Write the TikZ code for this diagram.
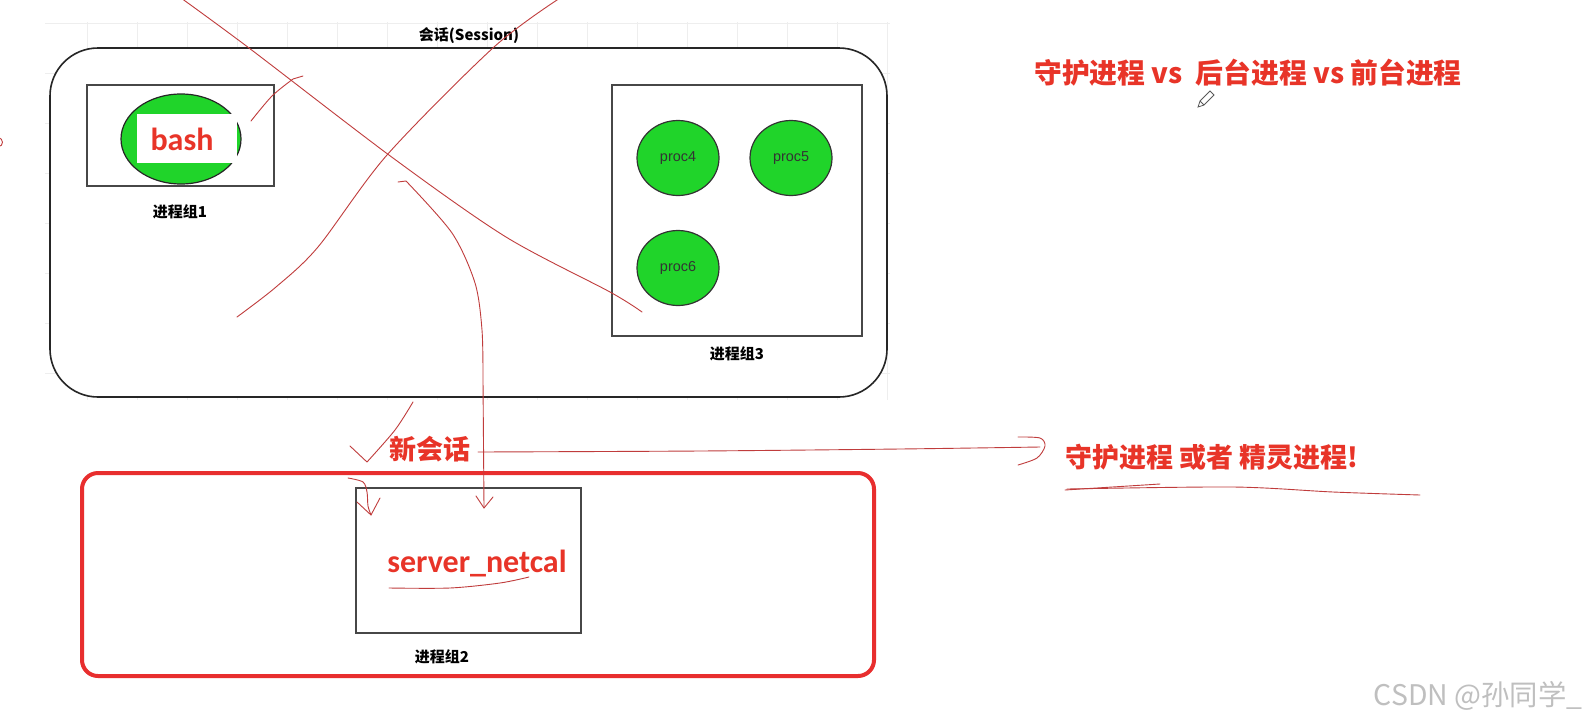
\documentclass[tikz,border=0pt]{standalone}
\usepackage{fontspec}
\setmainfont{Liberation Sans}
\newfontfamily\cjk{Noto Sans CJK SC}
\newfontfamily\calfont{Carlito}
\usetikzlibrary{fit,shapes.geometric}
\definecolor{procgreen}{RGB}{32,212,42}
\definecolor{txtred}{RGB}{232,52,40}
\definecolor{inkred}{RGB}{192,60,60}
\definecolor{boxred}{RGB}{232,46,46}
\definecolor{gridgray}{RGB}{238,238,238}
\tikzset{
  sessbox/.style={draw=black!85, line width=0.8pt, rounded corners=24pt, fill=white, inner sep=0pt},
  grpbox/.style={draw=black!72, line width=0.8pt, inner sep=0pt},
  redbox/.style={draw=boxred, line width=2pt, rounded corners=8pt, inner sep=0pt},
  procnode/.style={ellipse, draw=black!80, line width=0.6pt, fill=procgreen, minimum width=41pt, minimum height=37.5pt, inner sep=0pt, font=\fontsize{7.2}{8}\selectfont, text=black!80},
  grplbl/.style={font=\cjk\bfseries\fontsize{7.5}{9}\selectfont, inner sep=0pt},
  bigred/.style={text=txtred, font=\cjk\bfseries\fontsize{13.5}{16}\selectfont, inner sep=0pt},
  calred/.style={text=txtred, font=\calfont\bfseries\fontsize{16}{18}\selectfont, inner sep=0pt},
  ink/.style={draw=inkred, line width=0.45pt, line cap=round, line join=round},
  gridline/.style={draw=gridgray, line width=0.5pt}
}
\begin{document}
\begin{tikzpicture}[x=0.5pt,y=-0.5pt]
\useasboundingbox (0,0) rectangle (1594,723);
\fill[white] (0,0) rectangle (1594,723);
% faint grid of the drawing canvas
\foreach \x in {87,137,...,887} \draw[gridline] (\x,22) -- (\x,400);
\foreach \y in {23,73,...,373} \draw[gridline] (45,\y) -- (890,\y);

% session
\node[sessbox, fit={(50,48) (887,397)}] (session) {};
\node[grplbl] (sesslbl) at (469,36) {会话(Session)};

% process group 1
\node[grpbox, fit={(87,85) (274,186)}] (g1) {};
\node[ellipse, draw=black!85, line width=0.6pt, fill=procgreen, minimum width=60pt, minimum height=45pt] (bashell) at (181,139) {};
\node[fill=white, inner sep=0pt, fit={(137,114) (237,163)}] (bashbg) {};
\node[calred] (bash) at (182,139) {bash};
\node[grplbl] (g1lbl) at (180,212) {进程组1};

% process group 3
\node[grpbox, fit={(612,85) (862,336)}] (g3) {};
\node[procnode] (p4) at (678,158) {proc4};
\node[procnode] (p5) at (791,158) {proc5};
\node[procnode] (p6) at (678,268) {proc6};
\node[grplbl] (g3lbl) at (737,354) {进程组3};

% new session
\node[redbox, fit={(82,473) (874,676)}] (newsess) {};
\node[grpbox, fit={(356,488) (581,633)}] (g2) {};
\node[calred] (srv) at (477,563) {server\_netcal};
\node[grplbl] (g2lbl) at (442,657) {进程组2};
\node[bigred] (xin) at (430,449) {新会话};

% notes on the right
\node[bigred, font=\cjk\bfseries\fontsize{13.9}{16}\selectfont] (title) at (1248,73) {守护进程 vs\ \ 后台进程 vs 前台进程};
\node[bigred] (daemon) at (1212,457) {守护进程 或者 精灵进程!};
\node[text=black!25, font=\cjk\fontsize{14.2}{16}\selectfont, inner sep=0pt] (wm) at (1478,696) {CSDN @孙同学\_};

% pencil cursor
\draw[black!65, line width=0.4pt] (1198,107) -- (1200,101) -- (1210,91) -- (1214,95) -- (1204,105) -- cycle;
\draw[black!65, line width=0.4pt] (1200,101) -- (1204,105);

% hand-drawn strokes
\coordinate (a0) at (181,-2);
\coordinate (a1) at (642,312);
\draw[ink] plot[smooth] coordinates {(a0) (249,48) (393,158) (506,237) (610,292) (a1)};
\coordinate (b0) at (560,-2);
\coordinate (b1) at (237,317);
\draw[ink] plot[smooth] coordinates {(b0) (494,47) (387,155) (318,247) (276,287) (b1)};
\coordinate (c0) at (251,121);
\coordinate (c1) at (303,76);
\draw[ink] plot[smooth] coordinates {(c0) (272,96) (293,79)} -- (c1);
\coordinate (d0) at (398,182);
\coordinate (d1) at (484,508);
\draw[ink] (d0) -- (406,181) plot[smooth] coordinates {(406,181) (452,233) (475,283) (482,330) (483,380)} -- (d1);
\draw[ink] (476,496) -- (d1) -- (493,497);
\coordinate (e0) at (413,402);
\draw[ink] plot[smooth] coordinates {(e0) (395,430) (367,462)} -- (350,446);
\coordinate (f0) at (348,478);
\coordinate (f1) at (371,515);
\draw[ink] plot[smooth] coordinates {(f0) (363,482) (367,492) (368,506) (f1)};
\draw[ink] (357,502) -- (f1) -- (380,498);
\coordinate (g0) at (478,452);
\coordinate (g1e) at (1040,447);
\draw[ink] plot[smooth] coordinates {(g0) (700,451) (900,449) (g1e)};
\draw[ink] plot[smooth] coordinates {(1018,437) (1040,438) (1045,446) (1037,458) (1018,465)};
\draw[ink] (1065,490) -- (1160,484);
\draw[ink] plot[smooth] coordinates {(1067,489) (1233,487) (1333,492) (1420,495)};
\draw[ink] plot[smooth] coordinates {(389,588) (450,588) (500,583) (529,577)};
\draw[ink] (-2,137) .. controls (4,139) and (4,146) .. (-2,147);
\end{tikzpicture}
\end{document}
